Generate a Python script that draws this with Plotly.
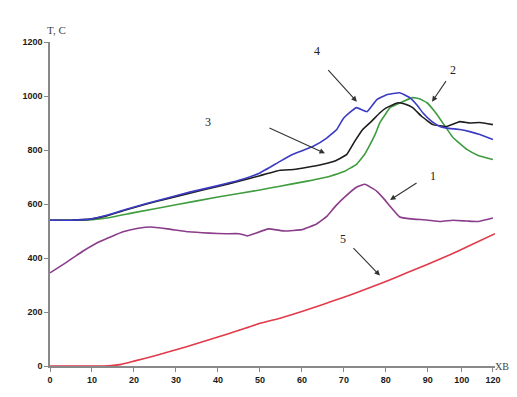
import plotly.graph_objects as go

# ---- data (x in axis units; the axis labels 100/120 sit at compressed positions) ----
x_tick_vals = [0, 10, 20, 30, 40, 50, 60, 70, 80, 90, 98.1, 105.5]
x_tick_text = ["0", "10", "20", "30", "40", "50", "60", "70", "80", "90", "100", "120"]
y_tick_vals = [0, 200, 400, 600, 800, 1000, 1200]

x1 = [0, 4, 8, 12, 17.4, 21, 24, 28, 33, 38, 42, 45, 47, 49, 52, 56, 60, 63.5, 66, 68,
      70.5, 73, 75, 77.8, 79.5, 81, 83.3, 86, 89.7, 93, 96, 99.3, 102, 105.5]
y1 = [345, 385, 427, 462, 497, 510, 515, 508, 497, 492, 490, 490, 482, 492, 508, 500, 505,
      526, 555, 592, 630, 662, 673, 648, 620, 592, 552, 545, 541, 535, 540, 537, 535, 548]

x2 = [0, 5, 10, 13.5, 20, 30, 40, 50, 54.8, 60, 66.7, 70, 73, 75, 76, 77.5, 78.6, 80, 81,
      84, 86.4, 88, 89.8, 91.5, 93, 96, 99.3, 102, 105.5]
y2 = [540, 540, 542, 548, 568, 597, 626, 652, 666, 681, 703, 720, 747, 785, 813, 860, 902,
      935, 957, 979, 994, 990, 975, 945, 913, 846, 802, 780, 765]

x3 = [0, 5, 10, 13.5, 18, 23, 28, 33.3, 40, 45, 50, 54.8, 58, 61, 65, 68, 70.7, 72.5, 74.5,
      76.5, 78.6, 80, 81.7, 82.9, 84.5, 86.4, 88.5, 91.2, 94.5, 97.6, 100, 102.4, 105.5]
y3 = [540, 540, 545, 556, 578, 600, 620, 640, 665, 684, 705, 725, 728, 735, 747, 760, 784,
      830, 876, 905, 938, 955, 968, 975, 970, 957, 925, 894, 887, 905, 900, 902, 894]

x4 = [0, 5, 10, 13.5, 18, 23, 28, 33.3, 40, 45, 50, 54.8, 58, 62.6, 66, 68.3, 69.8, 71.5,
      73, 75.5, 77.8, 80.2, 83.3, 85.7, 87.5, 88.8, 91, 92.9, 95, 97.6, 100, 102.4, 105.5]
y4 = [540, 540, 545, 558, 580, 602, 622, 644, 668, 688, 715, 758, 785, 813, 845, 876, 915,
      940, 957, 942, 986, 1005, 1012, 994, 965, 938, 905, 887, 880, 876, 868, 857, 839]

x5 = [0, 10, 14, 17, 20, 25, 30, 35, 40, 45, 50, 55, 60, 65, 70, 75, 80, 85, 90, 95, 100, 106]
y5 = [0, 0, 1, 6, 18, 38, 60, 83, 107, 132, 158, 178, 202, 228, 255, 283, 313, 345, 377,
      410, 446, 490]

series = [
    ("1", x1, y1, "#8a3d8a"),
    ("2", x2, y2, "#3f9c3f"),
    ("3", x3, y3, "#1e1e1e"),
    ("4", x4, y4, "#3b3bc4"),
    ("5", x5, y5, "#e23a4a"),
]

fig = go.Figure()
for name, xs, ys, col in series:
    fig.add_trace(go.Scatter(x=xs, y=ys, mode="lines", name=name,
                             line=dict(color=col, width=1.6, shape="spline", smoothing=0.3),
                             showlegend=False))

serif = "Liberation Serif"
ann = []
# label, text pos (x,y), arrow head (x,y), tail offset px (ax, ay)
callouts = [
    ("4", 63.6, 1167, 73.1, 979, -30, -33),
    ("2", 96.0, 1095, 91.0, 979, 15, -22),
    ("3", 37.6, 905, 65.5, 788, -57, -26),
    ("1", 91.2, 703, 81.0, 615, 28, -18),
    ("5", 69.8, 471, 78.6, 335, -28, -29),
]
for lab, tx, ty, hx, hy, ax, ay in callouts:
    ann.append(dict(x=tx, y=ty, xref="x", yref="y", text=lab, showarrow=False,
                    font=dict(family=serif, size=12, color="#222")))
    ann.append(dict(x=hx, y=hy, xref="x", yref="y", text="", showarrow=True,
                    ax=ax, ay=ay, arrowhead=2, arrowsize=1, arrowwidth=1.1,
                    arrowcolor="#333"))

ann.append(dict(x=-0.011, y=1.061, xref="paper", yref="paper", text="T, C",
                showarrow=False, font=dict(family=serif, size=11, color="#444")))
ann.append(dict(x=0.996, y=0, xref="paper", yref="paper", text="XB", xanchor="left",
                showarrow=False, font=dict(family=serif, size=10, color="#444"),
                yanchor="middle"))

# page body has an 8px margin: the figure starts at (8, 8) on the page
fig.update_layout(
    width=509, height=389,
    margin=dict(l=42, r=22, t=34, b=29),
    paper_bgcolor="white", plot_bgcolor="white",
    annotations=ann,
    font=dict(family="Liberation Sans", size=9, color="#222"),
)
tick_font = dict(family="Liberation Sans", size=9, color="#1a1a1a", weight="bold")
fig.update_xaxes(range=[0, 106], tickvals=x_tick_vals, ticktext=x_tick_text,
                 showgrid=False, zeroline=False, showline=True, linecolor="#888",
                 linewidth=1.5, ticks="outside", ticklen=4, tickcolor="#888",
                 tickfont=tick_font)
fig.update_yaxes(range=[0, 1200], tickvals=y_tick_vals,
                 showgrid=False, zeroline=False, showline=True, linecolor="#888",
                 linewidth=1.5, ticks="outside", ticklen=4, tickcolor="#888",
                 tickfont=tick_font)

fig.write_html("out.html")
